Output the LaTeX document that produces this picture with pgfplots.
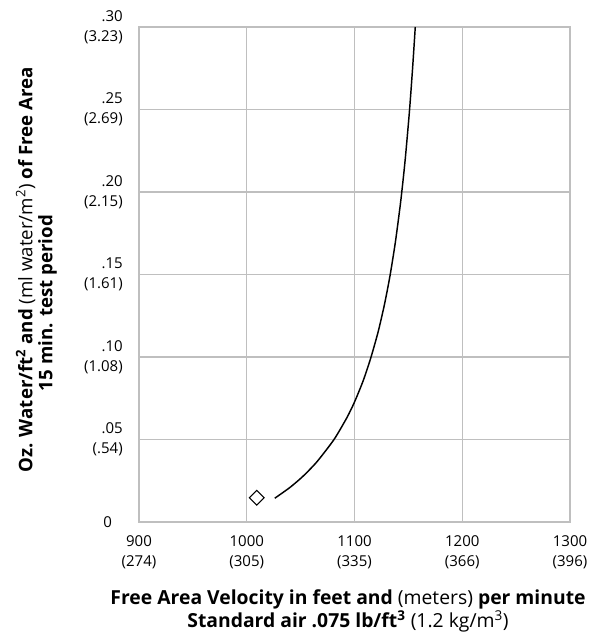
\documentclass[border=0pt]{standalone}
\usepackage{fontspec}
\setmainfont{Open Sans}
\usepackage{pgfplots}
\pgfplotsset{compat=1.18}

\definecolor{gridgray}{RGB}{191,191,191}

\begin{document}
\begin{tikzpicture}
\begin{axis}[
    at={(0,0)}, anchor=south west,
    scale only axis,
    width=323.25bp,
    height=371.25bp,
    xmin=900, xmax=1300,
    ymin=0, ymax=0.30,
    axis line style={gridgray, line width=0.9pt},
    grid=major,
    major grid style={gridgray, line width=0.9pt},
    major tick length=0pt,
    xtick={900,1000,1100,1200,1300},
    xticklabels={{900\\(274)},{1000\\(305)},{1100\\(335)},{1200\\(366)},{1300\\(396)}},
    ytick={0,0.05,0.10,0.15,0.20,0.25,0.30},
    yticklabels={{0\kern8bp},{.05\\(.54)},{.10\\(1.08)},{.15\\(1.61)},{.20\\(2.15)},{.25\\(2.69)},{.30\\(3.23)}},
    xticklabel style={align=center, inner sep=0pt, anchor=north, yshift=-10bp,
        font={\fontsize{11.25bp}{15bp}\selectfont}},
    yticklabel style={align=right, inner sep=0pt, anchor=east, xshift=-12bp,
        font={\fontsize{11.25bp}{15bp}\selectfont}},
    xlabel={\textbf{Free Area Velocity in feet and} (meters) \textbf{per minute}\\
        \textbf{Standard air .075 lb/ft\textsuperscript{3}} (1.2 kg/m\textsuperscript{3})},
    xlabel style={at={(axis description cs:0.485,-0.1354)}, anchor=north,
        inner sep=0pt, align=center, font={\fontsize{14.5bp}{17.25bp}\selectfont}},
    ylabel={\textbf{Oz. Water/ft\textsuperscript{2} and} (ml water/m\textsuperscript{2}) \textbf{of Free Area}\\
        \textbf{15 min. test period}\hspace*{49.5bp}\mbox{}},
    ylabel style={at={(axis description cs:-0.238,0.509)}, anchor=center, rotate=0,
        inner sep=0pt, align=center, font={\fontsize{14bp}{15bp}\selectfont}},
    clip=false,
]
% measured curve
\addplot[black, line width=1.1pt, smooth, tension=0.4] coordinates {
  (1026,0.0144)
  (1040,0.0209)
  (1052,0.0276)
  (1065,0.0364)
  (1081,0.0500)
  (1093,0.0633)
  (1100,0.0727)
  (1108,0.0855)
  (1115,0.0992)
  (1122,0.1154)
  (1128,0.1324)
  (1133,0.1494)
  (1138,0.1699)
  (1143,0.1949)
  (1147,0.2193)
  (1151,0.2490)
  (1154,0.2758)
  (1156.4,0.3000)
};
% single test point
\addplot[only marks, mark=square, mark size=3.9bp,
    mark options={rotate=45, fill=white, draw=black, line width=0.8pt}]
coordinates {(1009.2,0.0147)};
\end{axis}
\pgfresetboundingbox
\path[use as bounding box] (-104.25bp,-85.5bp) rectangle (345.75bp,391.5bp);
\end{tikzpicture}
\end{document}
